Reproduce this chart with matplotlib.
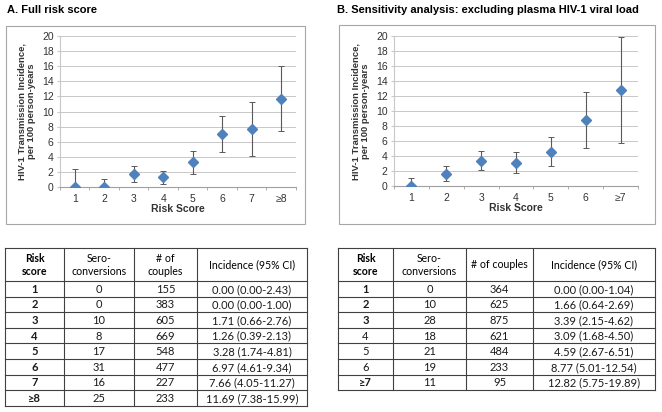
import matplotlib
matplotlib.use("Agg")
import matplotlib.pyplot as plt
from matplotlib.patches import Rectangle

# ---------------- data ----------------
cats_a = ["1", "2", "3", "4", "5", "6", "7", "≥8"]
inc_a = [0.00, 0.00, 1.71, 1.26, 3.28, 6.97, 7.66, 11.69]
lo_a = [0.00, 0.00, 0.66, 0.39, 1.74, 4.61, 4.05, 7.38]
hi_a = [2.43, 1.00, 2.76, 2.13, 4.81, 9.34, 11.27, 15.99]
sero_a = [0, 0, 10, 8, 17, 31, 16, 25]
couples_a = [155, 383, 605, 669, 548, 477, 227, 233]

cats_b = ["1", "2", "3", "4", "5", "6", "≥7"]
inc_b = [0.00, 1.66, 3.39, 3.09, 4.59, 8.77, 12.82]
lo_b = [0.00, 0.64, 2.15, 1.68, 2.67, 5.01, 5.75]
hi_b = [1.04, 2.69, 4.62, 4.50, 6.51, 12.54, 19.89]
sero_b = [0, 10, 28, 18, 21, 19, 11]
couples_b = [364, 625, 875, 621, 484, 233, 95]
bold_b = [True, True, True, False, False, False, True]

W, H = 662, 412
fig = plt.figure(figsize=(W / 100, H / 100), dpi=100)
fig.patch.set_facecolor("white")

CH_FONT = ["Liberation Sans", "DejaVu Sans"]
TB_FONT = ["Lato", "DejaVu Sans"]
MARK = "#4F81BD"


def fx(px):
    return px / W


def fy(py):
    return 1 - py / H


def chart(rect_px, box_px, cats, inc, lo, hi):
    l, t, r, b = rect_px
    ax = fig.add_axes([fx(l), fy(b), fx(r - l), (b - t) / H])
    x = list(range(1, len(cats) + 1))
    yerr = [[i - a for i, a in zip(inc, lo)], [h - i for i, h in zip(inc, hi)]]
    ax.errorbar(x, inc, yerr=yerr, fmt="none", ecolor="#5a5a5a",
                elinewidth=0.8, capsize=2, capthick=0.7, zorder=2)
    ax.plot(x, inc, linestyle="none", marker="D", markersize=5,
            color=MARK, zorder=3)
    ax.set_xlim(0.5, len(cats) + 0.5)
    ax.set_ylim(0, 20)
    ax.set_yticks(range(0, 21, 2))
    ax.set_xticks(x)
    ax.set_xticklabels(cats)
    ax.set_xticks([i + 0.5 for i in range(0, len(cats) + 1)], minor=True)
    ax.grid(axis="y", color="#C8C8C8", linewidth=0.7)
    ax.set_axisbelow(True)
    for s in ["top", "right"]:
        ax.spines[s].set_visible(False)
    ax.spines["left"].set_color("#C8C8C8")
    ax.spines["bottom"].set_color("#A0A0A0")
    ax.tick_params(axis="y", length=2.5, color="#C8C8C8", labelsize=7.5,
                   labelcolor="#333333", pad=2)
    ax.tick_params(axis="x", which="major", length=0, labelsize=7.5,
                   labelcolor="#333333", pad=5)
    ax.tick_params(axis="x", which="minor", length=2.5, color="#A0A0A0")
    for lab in ax.get_xticklabels() + ax.get_yticklabels():
        lab.set_family(CH_FONT)
    ax.set_xlabel("Risk Score", fontsize=7.5, fontweight="bold",
                  family=CH_FONT, color="#333333", labelpad=0)
    ax.set_ylabel("HIV-1 Transmission Incidence,\nper 100 person-years",
                  fontsize=6.8, fontweight="bold", family=CH_FONT,
                  color="#333333", labelpad=4, linespacing=1.2)
    bl, bt, br, bb = box_px
    fig.patches.append(Rectangle((fx(bl), fy(bb)), fx(br - bl), (bb - bt) / H,
                                 transform=fig.transFigure, fill=False,
                                 edgecolor="#A6A6A6", linewidth=0.8))
    return ax


chart((60, 36, 296, 187), (6, 26, 305, 224), cats_a, inc_a, lo_a, hi_a)
chart((394, 36, 638, 186), (339, 25, 655, 224), cats_b, inc_b, lo_b, hi_b)

fig.text(fx(7), fy(10), "A. Full risk score", fontsize=8, fontweight="bold",
         family=CH_FONT, va="center", ha="left")
fig.text(fx(337), fy(10), "B. Sensitivity analysis: excluding plasma HIV-1 viral load",
         fontsize=8, fontweight="bold", family=CH_FONT, va="center", ha="left")

# ---------------- tables ----------------
ov = fig.add_axes([0, 0, 1, 1])
ov.set_xlim(0, W)
ov.set_ylim(H, 0)
ov.axis("off")


def table(cols, top, head_bot, row_h, headers, rows, bold_first):
    n = len(rows)
    bottom = head_bot + n * row_h
    lw = 0.8
    lc = "#404040"
    ov.plot([cols[0], cols[-1]], [top, top], color=lc, lw=lw)
    ov.plot([cols[0], cols[-1]], [head_bot, head_bot], color=lc, lw=lw)
    for i in range(1, n + 1):
        y = head_bot + i * row_h
        ov.plot([cols[0], cols[-1]], [y, y], color=lc, lw=lw)
    for c in cols:
        ov.plot([c, c], [top, bottom], color=lc, lw=lw)
    for j, h in enumerate(headers):
        cx = (cols[j] + cols[j + 1]) / 2
        ov.text(cx, (top + head_bot) / 2 + 0.5, h, ha="center", va="center",
                fontsize=7.6, family=TB_FONT, linespacing=1.2,
                fontweight="bold" if j == 0 else "normal", color="#000000")
    for i, row in enumerate(rows):
        cy = head_bot + (i + 0.5) * row_h
        for j, v in enumerate(row):
            cx = (cols[j] + cols[j + 1]) / 2
            ov.text(cx, cy + 0.5, v, ha="center", va="center", fontsize=8,
                    family=TB_FONT, color="#1a1a1a",
                    fontweight="bold" if (j == 0 and bold_first[i]) else "normal")


rows_a = [[c, str(s), str(n), f"{i:.2f} ({a:.2f}-{h:.2f})"]
          for c, s, n, i, a, h in zip(cats_a, sero_a, couples_a, inc_a, lo_a, hi_a)]
rows_b = [[c, str(s), str(n), f"{i:.2f} ({a:.2f}-{h:.2f})"]
          for c, s, n, i, a, h in zip(cats_b, sero_b, couples_b, inc_b, lo_b, hi_b)]

table([5, 64, 134, 197, 307], 248, 281, 15.6,
      ["Risk\nscore", "Sero-\nconversions", "# of\ncouples", "Incidence (95% CI)"],
      rows_a, [True] * len(rows_a))
table([338, 393, 466, 533, 655], 248, 281, 15.6,
      ["Risk\nscore", "Sero-\nconversions", "# of couples", "Incidence (95% CI)"],
      rows_b, bold_b)

fig.savefig("out.png", dpi=100, facecolor="white")
